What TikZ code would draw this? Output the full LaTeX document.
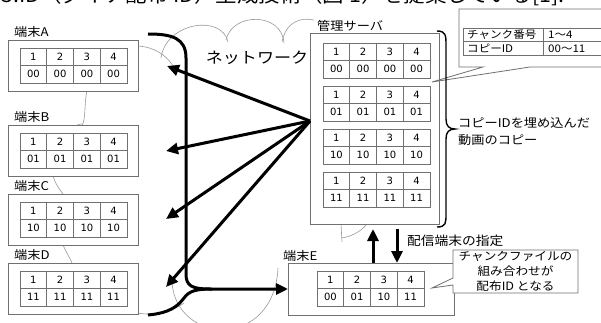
\documentclass[tikz,border=0pt]{standalone}
\usepackage{fontspec}
\usetikzlibrary{arrows.meta}
\newfontfamily\jp{Noto Sans CJK JP}[FakeStretch=1.1]
\newfontfamily\dig{DejaVu Sans}
\definecolor{boxgray}{HTML}{707070}
\definecolor{cloudgray}{HTML}{999999}
\tikzset{
  termbox/.style={draw=boxgray, line width=0.8pt, fill=white, anchor=north west, inner sep=0pt},
  tabline/.style={draw=boxgray, line width=0.8pt},
  digit/.style={font=\dig\fontsize{10}{12}\selectfont, inner sep=0pt},
  lbl/.style={font=\jp\fontsize{12}{14}\selectfont, anchor=west, inner sep=0pt},
  cloud/.style={draw=cloudgray, line width=0.6pt},
  thickarrow/.style={line width=3pt, -{Triangle[length=12pt,width=11pt]}},
  thickline/.style={line width=3pt},
}
\newcommand\cpytab[7]{%
  \begin{scope}[shift={(#2,#3)}]
    \draw[tabline, fill=white] (0,0) rectangle (107,35);
    \foreach \i in {1,2,3} \draw[tabline] ({26.75*\i},0) -- ({26.75*\i},35);
    \draw[tabline] (0,17.5) -- (107,17.5);
    \node[digit] (#1h1) at (13.4,8.75) {1};
    \node[digit] (#1h2) at (40.1,8.75) {2};
    \node[digit] (#1h3) at (66.9,8.75) {3};
    \node[digit] (#1h4) at (93.6,8.75) {4};
    \node[digit] (#1v1) at (13.4,26.25) {#4};
    \node[digit] (#1v2) at (40.1,26.25) {#5};
    \node[digit] (#1v3) at (66.9,26.25) {#6};
    \node[digit] (#1v4) at (93.6,26.25) {#7};
  \end{scope}}
\begin{document}
\begin{tikzpicture}[x=1pt, y=-1pt]
\useasboundingbox (0,0) rectangle (601,323);
\fill[white] (0,0) rectangle (601,323);

% cut-off line of text at the top
\node[anchor=south west, inner sep=0pt, font=\jp\fontsize{19.5}{22}\selectfont] (topline) at (1,6) {5.ID（ダイナ配布 ID）生成技術（図 1）を提案している[1].};

% cloud outline (behind)
\draw[cloud] (138,46) .. controls (155,47) and (167,56) .. (173,66);
\draw[cloud] (161,58) .. controls (166,22) and (222,14) .. (228,42);
\draw[cloud] (226,40) .. controls (232,12) and (282,12) .. (284,43);
\draw[cloud] (282,42) .. controls (286,22) and (300,17) .. (314,20);
\draw[cloud] (87,90) .. controls (84,105) and (86,118) .. (82,126);
\draw[cloud] (76,126) .. controls (78,124) and (80,124) .. (82,124);
\draw[cloud] (53,176) .. controls (56,185) and (60,190) .. (63,194);
\draw[cloud] (63,245) .. controls (66,252) and (70,258) .. (72,263);
\draw[cloud] (138,313) .. controls (152,316) and (172,312) .. (184,303);
\draw[cloud] (172,282) .. controls (176,345) and (274,350) .. (278,268);
\draw[cloud] (341,224) -- (342,242);
\draw[cloud] (342,238) .. controls (352,236) and (360,232) .. (366,225);

% terminals
\node[lbl] (lA) at (14,32) {端末A};
\node[termbox, minimum width=130pt, minimum height=51pt] (tA) at (8,40) {};
\cpytab{a}{20}{48}{00}{00}{00}{00}
\node[lbl] (lB) at (14,117) {端末B};
\node[termbox, minimum width=130pt, minimum height=51pt] (tB) at (8,125) {};
\cpytab{b}{20}{133}{01}{01}{01}{01}
\node[lbl] (lC) at (14,186) {端末C};
\node[termbox, minimum width=130pt, minimum height=51pt] (tC) at (8,194) {};
\cpytab{c}{20}{202}{10}{10}{10}{10}
\node[lbl] (lD) at (14,255) {端末D};
\node[termbox, minimum width=130pt, minimum height=51pt] (tD) at (8,263) {};
\cpytab{d}{20}{271}{11}{11}{11}{11}

% server
\node[lbl] (lS) at (317,26) {管理サーバ};
\node[termbox, minimum width=129pt, minimum height=191pt] (srvbox) at (310,33) {};
\cpytab{s}{323}{43}{00}{00}{00}{00}
\cpytab{t}{323}{86}{01}{01}{01}{01}
\cpytab{u}{323}{129}{10}{10}{10}{10}
\cpytab{w}{323}{172}{11}{11}{11}{11}

% network label
\node[font=\jp\fontsize{15.5}{18}\selectfont, inner sep=0pt] (net) at (257,58) {ネットワーク};

% terminal E
\node[lbl] (lE) at (283,256) {端末E};
\node[termbox, minimum width=166pt, minimum height=52pt] (tE) at (288,263) {};
\cpytab{e}{317}{271}{00}{01}{10}{11}

% callout for E
\draw[tabline, fill=white] (453,250) -- (578,250) -- (578,293) -- (453,293) -- (453,285) -- (432,288) -- (453,278) -- cycle;
\node[font=\jp\fontsize{11.5}{13}\selectfont, inner sep=0pt] (c1) at (515.5,256) {チャンクファイルの};
\node[font=\jp\fontsize{11.5}{13}\selectfont, inner sep=0pt] (c2) at (515.5,271) {組み合わせが};
\node[font=\jp\fontsize{11.5}{13}\selectfont, inner sep=0pt] (c3) at (515.5,286) {配布ID となる};

% legend callout
\draw[tabline, fill=white] (459,9) -- (612,9) -- (612,67) -- (530,67) -- (432,82) -- (483,67) -- (459,67) -- cycle;
\draw[tabline] (463,28) rectangle (612,55);
\draw[tabline] (463,41.5) -- (612,41.5);
\draw[tabline] (543,28) -- (543,55);
\node[font=\jp\fontsize{10.5}{12}\selectfont, anchor=west, inner sep=0pt] (g1) at (467,35) {チャンク番号};
\node[font=\jp\fontsize{10.5}{12}\selectfont, anchor=west, inner sep=0pt] (g2) at (548,35) {1～4};
\node[font=\jp\fontsize{10.5}{12}\selectfont, anchor=west, inner sep=0pt] (g3) at (467,48.5) {コピーID};
\node[font=\jp\fontsize{10.5}{12}\selectfont, anchor=west, inner sep=0pt] (g4) at (548,48.5) {00～11};

% brace
\draw[line width=1.4pt] (437,31) .. controls (446,31) and (446,36) .. (446,45) -- (446,119)
  .. controls (446,126) and (449,129) .. (455,129)
  .. controls (449,129) and (446,132) .. (446,139) -- (446,214)
  .. controls (446,223) and (446,227) .. (437,227);
\node[font=\jp\fontsize{12}{14}\selectfont, anchor=west, inner sep=0pt] (bt1) at (458,123) {コピーIDを埋め込んだ};
\node[font=\jp\fontsize{12}{14}\selectfont, anchor=west, inner sep=0pt] (bt2) at (458,140) {動画のコピー};

% arrows from server to terminals
\coordinate (src) at (310,121);
\coordinate (pA) at (167,66);
\coordinate (pB) at (166,151);
\coordinate (pC) at (166,219);
\coordinate (pD) at (166,287);
\draw[thickarrow] (src) -- (pA);
\draw[thickarrow] (src) -- (pB);
\draw[thickarrow] (src) -- (pC);
\draw[thickarrow] (src) -- (pD);

% forked line to terminal E
\coordinate (fTop) at (148,34);
\coordinate (fBot) at (148,315);
\coordinate (eIn) at (tE.west |- 0,289);
\draw[thickarrow] (fTop) .. controls (172,34) and (186,38) .. (186,58) -- (186,274)
  .. controls (186,286) and (192,289) .. (210,289) -- (eIn);
\draw[thickline] (fBot) .. controls (170,313) and (178,306) .. (184,298)
  .. controls (189,291) and (196,289) .. (212,289);

% server <-> E arrows
\coordinate (upS) at (373,263);
\coordinate (upE) at (373,229);
\coordinate (dnS) at (397,229);
\coordinate (dnE) at (397,263);
\draw[thickarrow] (upS) -- (upE);
\draw[thickarrow] (dnS) -- (dnE);
\node[font=\jp\fontsize{12.5}{14}\selectfont, anchor=west, inner sep=0pt] (spec) at (407,241) {配信端末の指定};
\end{tikzpicture}
\end{document}
